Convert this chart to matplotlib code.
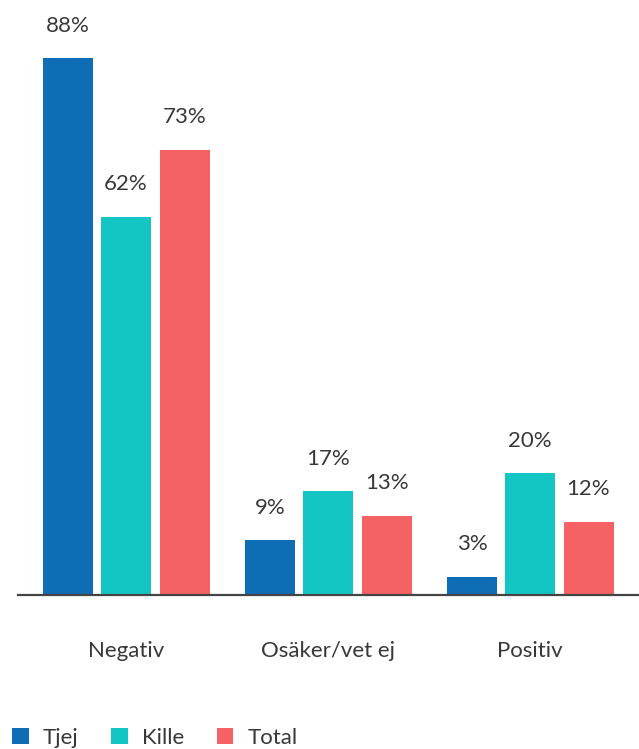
import matplotlib
matplotlib.use("Agg")
import matplotlib.pyplot as plt
from matplotlib.patches import Patch
import numpy as np

plt.rcParams['font.family'] = ['Lato', 'DejaVu Sans']

categories = ["Negativ", "Osäker/vet ej", "Positiv"]
series = ["Tjej", "Kille", "Total"]
tjej = [88, 9, 3]
kille = [62, 17, 20]
total = [73, 13, 12]
colors = ["#0F6DB5", "#13C5C3", "#F56263"]

fig = plt.figure(figsize=(6.39, 7.49), dpi=100)
ax = fig.add_axes([18/639, (749-595)/749, 1 - 18/639, 595/749])

x = np.arange(len(categories))
width = 0.2475
offsets = [-0.287, 0.0, 0.29]
text_color = "#383838"
fs = 16

for vals, off, col in zip([tjej, kille, total], offsets, colors):
    bars = ax.bar(x + off, vals, width=width, color=col, zorder=2)
    for b, v in zip(bars, vals):
        ax.annotate(f"{v}%", (b.get_x() + b.get_width()/2, v),
                    xytext=(0, 19), textcoords="offset points",
                    ha="center", va="baseline", fontsize=fs,
                    color=text_color)

ax.set_xlim(-0.535, 2.54)
ax.set_ylim(0, 97.5)
for s in ["top", "right", "left"]:
    ax.spines[s].set_visible(False)
ax.spines["bottom"].set_color("#444444")
ax.spines["bottom"].set_linewidth(1.6)
ax.spines["bottom"].set_zorder(3)
ax.set_yticks([])
ax.set_xticks([])
for xi, c in zip(x, categories):
    ax.text(xi, -0.094, c, transform=ax.get_xaxis_transform(), ha="center",
            va="center", fontsize=fs, color=text_color)

handles = [Patch(facecolor=c, label=s) for c, s in zip(colors, series)]
fig.legend(handles=handles, loc="center left", bbox_to_anchor=(12/639, 1 - 738/749),
           ncol=3, frameon=False, handlelength=0.75, handleheight=0.75,
           handletextpad=0.65, columnspacing=1.45, borderpad=0, borderaxespad=0,
           labelcolor=text_color, prop={"size": fs})

fig.savefig("out.png", dpi=100)
